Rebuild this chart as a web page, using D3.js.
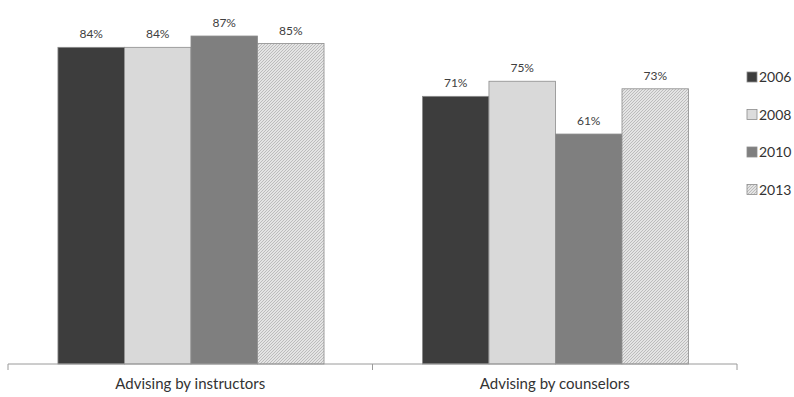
<!DOCTYPE html>
<html><head><meta charset="utf-8">
<script src="https://cdn.jsdelivr.net/npm/d3@7"></script>
<style>body{margin:0;background:#fff}svg{display:block}</style>
</head><body>
<svg id="c" width="794" height="397"></svg>
<script>
const categories = ["Advising by instructors", "Advising by counselors"];
const years = ["2006", "2008", "2010", "2013"];
const v2006 = [84, 71];
const v2008 = [84, 75];
const v2010 = [87, 61];
const v2013 = [85, 73];
const seriesValues = [v2006, v2008, v2010, v2013];

const svg = d3.select("#c");
const font = "Lato, 'Liberation Sans', sans-serif";
const defs = svg.append("defs");
const pat = defs.append("pattern").attr("id","hatch").attr("patternUnits","userSpaceOnUse")
  .attr("width",3).attr("height",3);
pat.append("rect").attr("width",3).attr("height",3).attr("fill","#e4e4e4");
pat.append("path").attr("d","M0,3 L3,0 M-1,1 L1,-1 M2,4 L4,2").attr("stroke","#ababab").attr("stroke-width",0.7);

const fills = ["#3d3d3d", "#d9d9d9", "#7f7f7f", "url(#hatch)"];
const legendFills = ["#3d3d3d", "#dcdcdc", "#7f7f7f", "url(#hatch)"];

const x0 = d3.scaleBand().domain(categories).range([8, 737]).paddingInner(0).paddingOuter(0);
const x1 = d3.scaleBand().domain(years).range([0, x0.bandwidth()*0.73]);
const off = x0.bandwidth()*0.137;
const y = d3.scaleLinear().domain([0, 100]).range([364, -13]);

const g = svg.append("g");
categories.forEach((c, ci) => {
  years.forEach((yr, si) => {
    const val = seriesValues[si][ci];
    const bx = x0(c) + off + x1(yr);
    g.append("rect").attr("x", bx).attr("y", y(val)).attr("width", x1.bandwidth())
      .attr("height", y(0) - y(val)).attr("fill", fills[si])
      .attr("stroke", "#8c8c8c").attr("stroke-width", 0.8);
    g.append("text").attr("x", bx + x1.bandwidth()/2).attr("y", y(val) - 9)
      .attr("text-anchor", "middle").attr("font-family", font).attr("font-size", 12)
      .attr("fill", "#404040").text(val + "%");
  });
});

// axis
const ax = svg.append("g").attr("transform", "translate(0,364)");
ax.append("line").attr("x1", 8).attr("x2", 737).attr("stroke", "#9a9a9a");
const tickXs = [x0.range()[0]].concat(categories.map(c => x0(c) + x0.bandwidth()));
tickXs.forEach(tx => ax.append("line").attr("x1", tx).attr("x2", tx).attr("y1", 0).attr("y2", 6).attr("stroke", "#9a9a9a"));
categories.forEach(c => ax.append("text").attr("x", x0(c) + x0.bandwidth()/2).attr("y", 25)
  .attr("text-anchor", "middle").attr("font-family", font).attr("font-size", 15).attr("fill", "#333").text(c));

// legend
const lg = svg.append("g");
years.forEach((yr, i) => {
  const ly = 77 + i*37.5;
  lg.append("rect").attr("x", 747).attr("y", ly - 5).attr("width", 10).attr("height", 10)
    .attr("fill", legendFills[i]).attr("stroke", "#8c8c8c").attr("stroke-width", 0.8);
  lg.append("text").attr("x", 759).attr("y", ly + 5).attr("font-family", font).attr("font-size", 14)
    .attr("fill", "#333").text(yr);
});
</script>
</body></html>
